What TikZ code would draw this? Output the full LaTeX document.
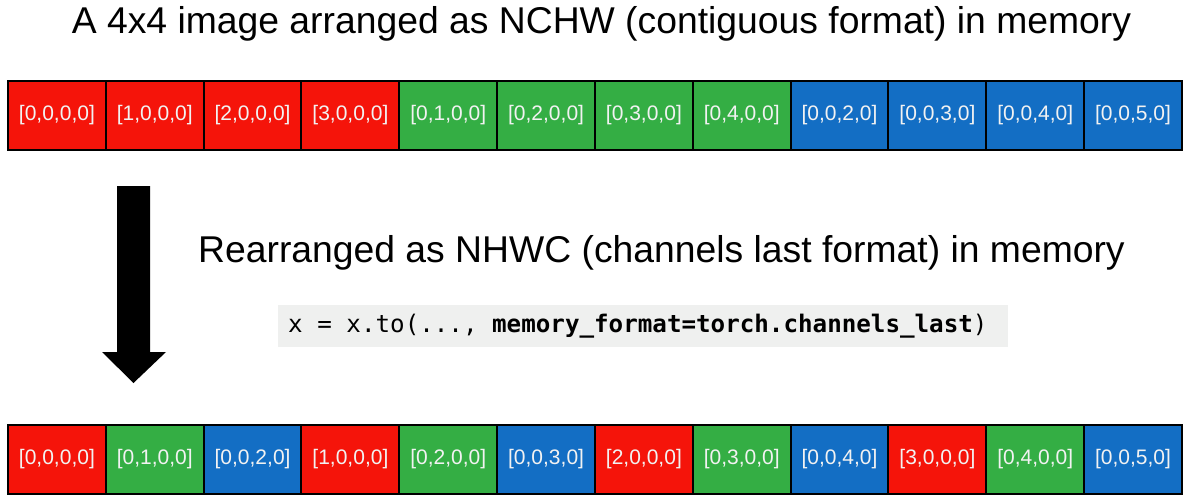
\documentclass[tikz,border=0pt]{standalone}
\usepackage{fontspec}
\setmainfont{Liberation Sans}
\setmonofont{DejaVu Sans Mono}
\definecolor{cred}{HTML}{F5140A}
\definecolor{cgreen}{HTML}{34AE44}
\definecolor{cblue}{HTML}{136EC4}
\definecolor{celltext}{HTML}{F2F2F2}
\definecolor{codebg}{HTML}{EFF0EF}
\newcommand{\codesp}{\hspace*{0.6021em}}
\begin{document}
\begin{tikzpicture}[x=1pt,y=-1pt,
  cell/.style={draw=black, line width=2pt, inner sep=0pt, outer sep=0pt,
    minimum width=97.83pt, minimum height=69pt, text=celltext,
    font=\fontsize{21}{24}\selectfont},
  title/.style={anchor=base, inner sep=0pt, font=\fontsize{37.3}{42}\selectfont},
  blockarrow/.style={fill=black, draw=none}]
\useasboundingbox (0,0) rectangle (1189,503);
\fill[white] (0,0) rectangle (1189,503);
% titles
\node[title] (title1) at (601.5,34) {A 4x4 image arranged as NCHW (contiguous format) in memory};
\node[title] (title2) at (661.5,262) {Rearranged as NHWC (channels last format) in memory};
% top row
\foreach \lab/\col [count=\i] in {{[0,0,0,0]}/cred,{[1,0,0,0]}/cred,{[2,0,0,0]}/cred,{[3,0,0,0]}/cred,
  {[0,1,0,0]}/cgreen,{[0,2,0,0]}/cgreen,{[0,3,0,0]}/cgreen,{[0,4,0,0]}/cgreen,
  {[0,0,2,0]}/cblue,{[0,0,3,0]}/cblue,{[0,0,4,0]}/cblue,{[0,0,5,0]}/cblue}
  \node[cell, fill=\col] (t\i) at ({8+97.83*(\i-0.5)},115.5) {\lab};
% bottom row
\foreach \lab/\col [count=\i] in {{[0,0,0,0]}/cred,{[0,1,0,0]}/cgreen,{[0,0,2,0]}/cblue,
  {[1,0,0,0]}/cred,{[0,2,0,0]}/cgreen,{[0,0,3,0]}/cblue,
  {[2,0,0,0]}/cred,{[0,3,0,0]}/cgreen,{[0,0,4,0]}/cblue,
  {[3,0,0,0]}/cred,{[0,4,0,0]}/cgreen,{[0,0,5,0]}/cblue}
  \node[cell, fill=\col] (b\i) at ({8+97.83*(\i-0.5)},459.5) {\lab};
% code
\node[fill=codebg, inner xsep=10pt, inner ysep=0pt, text width=710pt, minimum height=42pt,
  align=left, anchor=west, font=\ttfamily\fontsize{24.2}{28}\selectfont] (code) at (278,326)
  {x\codesp=\codesp x.to(...,\codesp\textbf{memory\_format=torch.channels\_last})};
% block arrow
\coordinate (atop) at (133.5,186);
\coordinate (atip) at (133.5,383);
\fill[blockarrow] (117,186) -- (150,186) -- (150,352) -- (166,352) -- (atip) -- (102,352) -- (117,352) -- cycle;
\end{tikzpicture}
\end{document}
